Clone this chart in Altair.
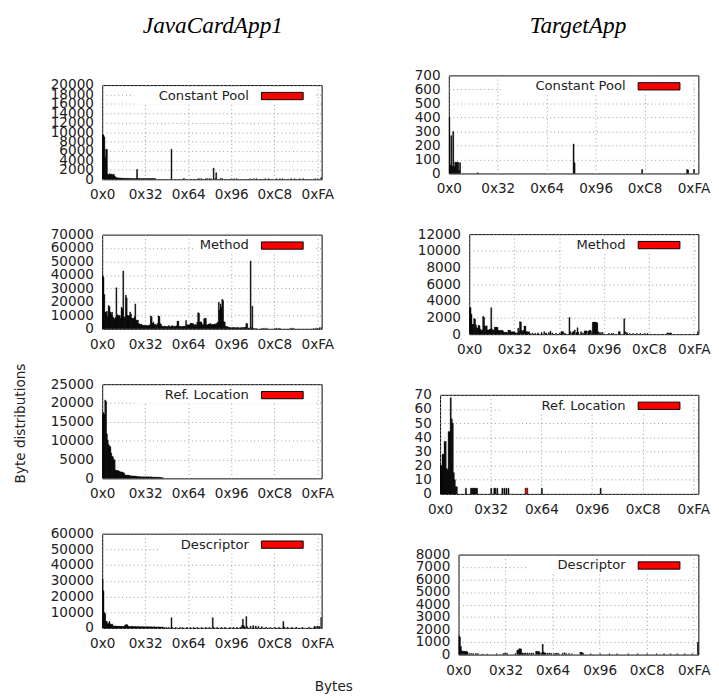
import altair as alt
import pandas as pd

FONT = "DejaVu Sans"
TITLE_FONT = "Liberation Serif"

# ---------------- data (counts per byte value) ----------------
cp_java_head = [9500, 9400, 9000, 4600, 6400, 6300, 1100, 900, 1200, 1000, 1100, 1000, 900, 1100, 700, 500,
                300, 350, 250, 300, 200, 250, 200, 250, 200, 150, 200, 150, 150, 200, 150, 150,
                150, 120, 150, 120, 150, 120, 120, 150, 2100, 150, 120, 150, 120, 120, 150, 120,
                120, 150, 120, 120, 150, 120, 120, 150, 120, 120, 150, 120, 120, 150]
cp_java_tail = [(80, 6400), (94, 100), (95, 100), (111, 100), (113, 100), (115, 100), (120, 120), (122, 120),
                (124, 120), (126, 120), (129, 2400), (131, 150), (132, 1400), (137, 150), (139, 150), (150, 100),
                (153, 100), (156, 100), (172, 100), (176, 100), (179, 100), (189, 100), (193, 100), (202, 100),
                (206, 100), (209, 100), (219, 100), (223, 100), (229, 100), (233, 100), (247, 100), (250, 100),
                (254, 400)]

method_java_head = [40000, 38500, 25500, 12500, 12000, 13000, 9000, 17300, 16500, 12500, 11000, 12500, 9000, 8000, 7000, 8500,
                    30500, 10500, 10000, 9500, 10000, 8000, 16000, 15000, 43000, 9000, 8500, 25000, 23000, 10000, 9500, 10000,
                    12500, 11000, 8000, 7700, 7500, 9000, 18500, 6500, 6000, 6500, 4000, 3500, 3000, 3500, 2800, 2500,
                    2400, 2600, 2300, 2500, 2200, 2400, 2500, 3000, 9600, 9000, 4000, 5000, 3000, 3500, 2500, 3000,
                    4000, 9600, 9200, 4000, 3000, 2000, 1800, 1600, 2000, 1700, 1500, 1800, 1600, 2400, 1700, 1500,
                    1800, 2500, 1700, 1600, 2000, 1800, 2200, 5800, 5600, 2000, 1700, 1600, 1500, 1800, 1700, 2000,
                    1600, 6200, 2900, 3000, 2800, 2900, 4000, 4200, 3800, 4000, 3000, 2900, 3200, 2800, 5000, 12000,
                    11500, 5000, 5200, 4800, 3000, 3200, 7700, 7500, 7800, 3000, 2900, 3500, 3200, 4000, 3500, 3000,
                    3200, 3000, 3500, 3200, 4000, 3800, 5000, 19700, 14000, 18500, 16000, 22000, 21000, 5300, 5000, 1700,
                    1500, 1700, 1200, 1000, 800, 1000, 600, 1000, 800, 1000, 700, 900, 600, 1000, 800, 700,
                    600, 1000, 700, 900, 800, 1000, 1200, 4000, 3800, 600, 500, 400, 50400, 800, 16800, 300,
                    200, 0, 0, 100]
method_java_tail = [(185, 400), (187, 300), (189, 500), (191, 300), (200, 300), (202, 500), (204, 300), (206, 400),
                    (218, 300), (220, 500), (222, 400), (245, 300), (248, 600), (250, 400), (252, 800), (254, 1000)]

ref_java_head = [17000, 17500, 17000, 20800, 20400, 11800, 10200, 9000, 8600, 8400, 6700, 5900, 5700, 5000, 4900, 2200,
                 2100, 2000, 2100, 1900, 1800, 1700, 1600, 1700, 1500, 1400, 850, 900, 800, 850, 800, 750,
                 700, 650, 600, 650, 600, 550, 600, 550, 500, 400, 450, 400, 400, 350, 400, 400,
                 350, 400, 350, 400, 350, 400, 350, 350, 400, 350, 300, 300, 350, 300, 250, 300,
                 250, 300, 250, 250, 200, 100, 150]
ref_java_tail = []

desc_java_head = [31000, 23600, 9800, 9000, 4100, 4000, 2500, 3000, 4100, 2500, 2000, 2500, 1500, 1200, 1000, 1100,
                  1200, 1000, 900, 1100, 1000, 900, 1000, 800, 900, 1000, 1500, 2000, 2100, 1800, 900, 800,
                  900, 800, 1000, 800, 700, 800, 900, 800, 700, 800, 700, 800, 600, 700, 800, 700,
                  600, 700, 600, 700, 800, 600, 700, 600, 700, 600, 500, 600, 700, 600, 500, 600,
                  500, 600, 500, 400, 500, 400, 500]
desc_java_tail = [(72, 300), (74, 200), (77, 300), (80, 6500), (81, 300), (85, 200), (90, 300), (93, 200),
                  (98, 300), (102, 200), (106, 300), (110, 200), (115, 300), (120, 200), (124, 300), (128, 6500),
                  (129, 400), (133, 300), (138, 200), (142, 300), (148, 200), (152, 300), (156, 200), (160, 400),
                  (162, 1500), (163, 5500), (164, 1500), (165, 600), (167, 7200), (168, 800), (172, 1000), (175, 1500),
                  (178, 1200), (181, 1000), (185, 800), (190, 400), (195, 300), (200, 400), (205, 300), (210, 4100),
                  (211, 500), (215, 400), (220, 300), (225, 400), (232, 300), (240, 400), (246, 1000), (248, 800),
                  (250, 1200), (252, 900), (254, 6700)]

cp_target_head = []
cp_target_tail = [(0, 400), (1, 60), (2, 270), (3, 50), (4, 300), (5, 50), (6, 80), (7, 80), (8, 80), (9, 80),
                  (10, 20), (11, 76), (29, 5), (127, 210), (128, 76), (197, 28), (243, 28), (244, 25), (250, 28)]

method_target_head = [3100, 3200, 2400, 1160, 1200, 1860, 1800, 1100, 770, 700, 1080, 1000, 600, 460, 500, 2130,
                      2000, 1000, 900, 1000, 500, 460, 580, 600, 3170, 600, 500, 450, 850, 800, 850, 800,
                      460, 400, 460, 420, 460, 400, 230, 200, 230, 200, 100, 460, 450, 460, 300, 200,
                      300, 250, 300, 100, 150, 100, 700, 300, 1500, 1450, 460, 300, 460, 970, 950, 300,
                      300, 250, 300, 100]
method_target_tail = [(70, 150), (73, 100), (76, 150), (80, 200), (83, 300), (85, 150), (88, 200), (90, 350),
                      (92, 150), (96, 100), (100, 100), (102, 300), (103, 300), (104, 300), (106, 100), (111, 2000),
                      (112, 300), (114, 150), (115, 300), (116, 300), (117, 500), (119, 200), (120, 770), (121, 200),
                      (124, 300), (126, 150), (128, 390), (129, 390), (130, 390), (132, 390), (133, 390), (134, 500),
                      (135, 390), (137, 1430), (138, 1430), (139, 1450), (140, 1400), (141, 1430), (142, 1350), (143, 300),
                      (144, 190), (146, 190), (148, 190), (155, 80), (158, 80), (160, 80), (166, 300), (167, 300),
                      (172, 1860), (173, 300), (175, 190), (178, 80), (182, 80), (186, 80), (190, 80), (195, 80),
                      (198, 80), (220, 150), (221, 150), (223, 150), (224, 150), (254, 300)]

ref_target_head = [20, 20, 28, 28, 37, 37, 18, 17, 44, 44, 68, 53, 50, 15, 10, 5, 5]
ref_target_tail = [(25, 4), (30, 4), (31, 4), (32, 4), (33, 4), (34, 4), (35, 4), (36, 4), (50, 4), (53, 4),
                   (54, 4), (56, 4), (61, 4), (63, 4), (65, 4), (67, 4), (100, 4), (158, 4)]
ref_target_red = [(84, 4)]

desc_target_head = [1500, 1400, 650, 300, 260, 260, 250, 260, 240, 200]
desc_target_tail = [(11, 80), (13, 80), (15, 80), (18, 80), (20, 80), (25, 50), (30, 50), (40, 60), (47, 80),
                    (49, 130), (51, 100), (60, 80), (62, 340), (63, 340), (64, 460), (65, 460), (66, 450), (67, 120),
                    (68, 130), (70, 130), (71, 100), (73, 130), (75, 100), (77, 130), (79, 120), (82, 260), (83, 260),
                    (84, 200), (85, 260), (86, 150), (88, 130), (89, 830), (90, 200), (91, 130), (92, 130), (94, 100),
                    (96, 130), (98, 100), (101, 80), (103, 80), (104, 120), (106, 80), (110, 80), (112, 150), (114, 80),
                    (117, 80), (120, 60), (129, 180), (130, 180), (131, 150), (132, 100), (140, 60), (150, 60),
                    (160, 60), (168, 60), (180, 60), (190, 60), (200, 60), (210, 60), (218, 60), (225, 60), (232, 60),
                    (240, 60), (248, 60), (254, 980), (255, 980)]

# tick values
x_ticks = [0, 50, 100, 150, 200, 250]
y_ticks_cp_java = [0, 2000, 4000, 6000, 8000, 10000, 12000, 14000, 16000, 18000, 20000]
y_ticks_method_java = [0, 10000, 20000, 30000, 40000, 50000, 60000, 70000]
y_ticks_ref_java = [0, 5000, 10000, 15000, 20000, 25000]
y_ticks_desc_java = [0, 10000, 20000, 30000, 40000, 50000, 60000]
y_ticks_cp_target = [0, 100, 200, 300, 400, 500, 600, 700]
y_ticks_method_target = [0, 2000, 4000, 6000, 8000, 10000, 12000]
y_ticks_ref_target = [0, 10, 20, 30, 40, 50, 60, 70]
y_ticks_desc_target = [0, 1000, 2000, 3000, 4000, 5000, 6000, 7000, 8000]

labels = ["Constant Pool", "Method", "Ref. Location", "Descriptor"]
col_titles = ["JavaCardApp1", "TargetApp"]


def to_frame(head, tail):
    b = list(range(len(head))) + [p[0] for p in tail]
    c = list(head) + [p[1] for p in tail]
    return pd.DataFrame({"byte": b, "count": c})


def spacer(w, h, title=None):
    props = dict(width=w, height=h, view=alt.ViewBackground(stroke="transparent"))
    if title:
        props["title"] = alt.TitleParams(text=title["text"], font=TITLE_FONT, fontStyle="italic",
                                         fontSize=24, fontWeight="normal", color="black", anchor="middle",
                                         frame="group", offset=title["offset"], dx=title["dx"])
    return alt.Chart(pd.DataFrame({"s": [0]})).mark_point(opacity=0).encode(
        x=alt.value(0), y=alt.value(0)
    ).properties(**props)


def panel(df, label, yticks, width, height, box_extra, red=None, x_title=None, y_title=None):
    ymax = yticks[-1]
    xs = alt.Scale(domain=[0, 255], nice=False, zero=False)
    ys = alt.Scale(domain=[0, ymax], nice=False)
    xkw = dict(values=x_ticks, labelExpr="'0x' + format(datum.value, 'X')", ticks=False, domain=False,
               labelPadding=9, labelFontSize=14, labelFont=FONT, labelColor="#222", labelFlush=False,
               labelOverlap=False, grid=True, gridDash=[1, 3], gridColor="#999")
    if x_title:
        xkw.update(title=x_title["text"], titleX=x_title["x"], titleY=x_title["y"], titleFont=FONT,
                   titleFontSize=14, titleFontWeight="normal", titleColor="#222", titleAlign="center",
                   titleBaseline="middle")
    else:
        xkw.update(title=None)
    ykw = dict(values=yticks, format="d", ticks=False, domain=False, labelPadding=9, labelFontSize=14,
               labelFont=FONT, labelColor="#222", labelOverlap=False, labelFlush=False, grid=True,
               gridDash=[1, 3], gridColor="#999")
    if y_title:
        ykw.update(title=y_title["text"], titleX=y_title["x"], titleY=y_title["y"], titleFont=FONT,
                   titleFontSize=14, titleFontWeight="normal", titleColor="#222", titleAlign="center",
                   titleBaseline="middle", titleAngle=270)
    else:
        ykw.update(title=None)
    x_axis = alt.Axis(**xkw)
    y_axis = alt.Axis(**ykw)

    bars = alt.Chart(df).transform_calculate(end="datum.byte + 1", base="0").mark_rect(
        color="black", stroke="black", strokeWidth=0.5, clip=True
    ).encode(
        x=alt.X("byte:Q", scale=xs, axis=x_axis),
        x2="end:Q",
        y=alt.Y("count:Q", scale=ys, axis=y_axis),
        y2="base:Q",
    )
    layers = [bars]
    if red is not None:
        layers.append(
            alt.Chart(red).transform_calculate(end="datum.byte + 2.5", base="0").mark_rect(
                fill="red", stroke="black", strokeWidth=0.7, clip=True
            ).encode(
                x=alt.X("byte:Q", scale=xs, axis=x_axis),
                x2="end:Q",
                y=alt.Y("count:Q", scale=ys, axis=y_axis),
                y2="base:Q",
            )
        )
    key_df = pd.DataFrame({"label": [label]})
    n = len(label)
    layers.append(alt.Chart(key_df).mark_rect(color="white").encode(
        x=alt.value(width - (box_extra + 9 * n)), x2=alt.value(width - 6), y=alt.value(2), y2=alt.value(20)))
    layers.append(alt.Chart(key_df).mark_text(
        align="right", baseline="middle", font=FONT, fontSize=13.5, color="#222"
    ).encode(x=alt.value(width - 75), y=alt.value(11.3), text="label:N"))
    layers.append(alt.Chart(key_df).mark_rect(fill="red", stroke="black", strokeWidth=1).encode(
        x=alt.value(width - 62), x2=alt.value(width - 19), y=alt.value(7.5), y2=alt.value(15)))
    return alt.layer(*layers).properties(width=width, height=height)


LW, LH = 226, 97
L1 = panel(to_frame(cp_java_head, cp_java_tail), labels[0], y_ticks_cp_java, LW, LH, 76)
L2 = panel(to_frame(method_java_head, method_java_tail), labels[1], y_ticks_method_java, LW, LH, 76)
L3 = panel(to_frame(ref_java_head, ref_java_tail), labels[2], y_ticks_ref_java, LW, LH, 76,
           y_title={"text": "Byte distributions", "x": -84, "y": 40})
L4 = panel(to_frame(desc_java_head, desc_java_tail), labels[3], y_ticks_desc_java, LW, LH, 76,
           x_title={"text": "Bytes", "x": 238, "y": 61})

R1 = panel(to_frame(cp_target_head, cp_target_tail), labels[0], y_ticks_cp_target, 257, 101, 86)
R2 = panel(to_frame(method_target_head, method_target_tail), labels[1], y_ticks_method_target, 236, 103, 86)
R3 = panel(to_frame(ref_target_head, ref_target_tail), labels[2], y_ticks_ref_target, 266, 102, 86,
           red=to_frame([], ref_target_red))
R4 = panel(to_frame(desc_target_head, desc_target_tail), labels[3], y_ticks_desc_target, 247, 103, 86)

left_inner = alt.vconcat(L1, L2, L3, L4, spacing=57, bounds="flush")
left_col = alt.vconcat(spacer(LW, 1, {"text": col_titles[0], "offset": 6, "dx": 1}), left_inner, spacing=28)

right_rows = [alt.hconcat(spacer(w, 1), p, spacing=0, bounds="flush")
              for w, p in [(11, R1), (32, R2), (2, R3), (21, R4)]]
right_inner = alt.vconcat(*right_rows, spacing=30.5)
right_col = alt.vconcat(spacer(268, 1, {"text": col_titles[1], "offset": 6, "dx": 10}), right_inner, spacing=18)

chart = alt.hconcat(left_col, right_col, spacing=61).properties(
    padding={"left": 5, "top": -5, "right": 0, "bottom": 0}
).configure_view(stroke="black", strokeWidth=1)

chart.save("out.html", embed_options={"renderer": "svg", "actions": False})
